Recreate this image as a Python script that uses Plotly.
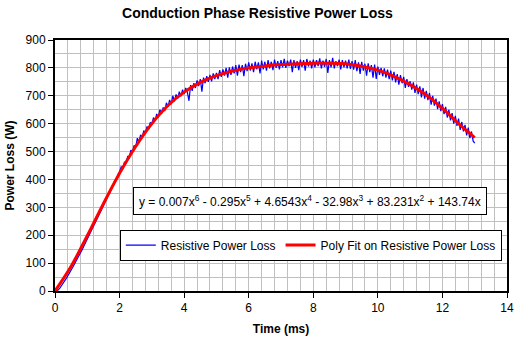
import numpy as np
import plotly.graph_objects as go

# ---- data ----
time_step = 0.05
loss_measured = [
    0, 1, 4, 10, 18, 27, 36, 45, 55, 64, 74, 85, 96, 106, 117, 128, 139, 150, 162, 173,
    186, 199, 210, 222, 234, 246, 258, 270, 282, 296, 306, 322, 330, 348, 352, 372, 378, 396, 398, 418,
    428, 445, 440, 462, 458, 482, 478, 505, 498, 522, 516, 548, 535, 560, 552, 575, 566, 590, 580, 605,
    598, 622, 610, 635, 622, 650, 635, 658, 645, 675, 660, 685, 670, 700, 680, 705, 690, 715, 698, 722,
    706, 728, 712, 682, 738, 718, 745, 728, 755, 735, 760, 715, 765, 745, 770, 750, 775, 752, 780, 760,
    782, 760, 792, 768, 795, 772, 800, 765, 802, 775, 805, 780, 810, 772, 812, 785, 810, 770, 815, 788,
    820, 790, 816, 785, 822, 795, 820, 780, 826, 795, 822, 790, 828, 798, 822, 792, 830, 800, 824, 795,
    828, 802, 832, 800, 826, 806, 830, 785, 828, 800, 824, 792, 830, 804, 828, 790, 832, 805, 826, 798,
    830, 802, 828, 806, 834, 798, 826, 804, 832, 782, 828, 802, 836, 798, 824, 806, 830, 795, 828, 802,
    826, 798, 830, 796, 824, 794, 828, 788, 820, 778, 822, 790, 815, 772, 816, 785, 810, 765, 812, 760,
    805, 775, 800, 770, 798, 765, 794, 760, 790, 755, 786, 748, 778, 740, 774, 745, 768, 728, 760, 732,
    752, 722, 748, 710, 740, 706, 734, 694, 728, 690, 718, 684, 710, 668, 700, 665, 690, 652, 680, 645,
    670, 634, 660, 622, 650, 612, 638, 600, 628, 592, 618, 578, 606, 572, 596, 558, 586, 548, 572, 538,
    530,
]
fit_time = [0, 0.5, 1, 1.5, 2, 2.5, 3, 3.5, 4, 4.5, 5, 5.5, 6, 6.5, 7, 7.5, 8, 8.5, 9, 9.5,
            10, 10.5, 11, 11.5, 12, 12.5, 13]
fit_loss = [0, 89, 198, 313, 422, 518, 600, 665, 713, 748, 772, 789, 800, 807, 812, 815, 817,
            817, 815, 806, 792, 770, 740, 703, 655, 600, 550]

measured_time = np.round(np.arange(len(loss_measured)) * time_step, 2)

title_text = "Conduction Phase Resistive Power Loss"
x_title = "Time (ms)"
y_title = "Power Loss (W)"
equation = ("y = 0.007x<sup>6</sup> - 0.295x<sup>5</sup> + 4.6543x<sup>4</sup> - 32.98x<sup>3</sup>"
            " + 83.231x<sup>2</sup> + 143.74x")

FONT = "Liberation Sans, Arial, sans-serif"

fig = go.Figure()
fig.add_trace(go.Scatter(
    x=measured_time, y=loss_measured, mode="lines",
    line=dict(color="#0000FF", width=1.2),
    name="Resistive Power Loss"))
fig.add_trace(go.Scatter(
    x=fit_time, y=fit_loss, mode="lines",
    line=dict(color="#FF0000", width=3, shape="spline"),
    name="Poly Fit on Resistive Power Loss"))

grid = "#C0C0C0"
fig.update_layout(
    width=520, height=342,
    margin=dict(l=55, r=13, t=40, b=51),
    paper_bgcolor="white", plot_bgcolor="white",
    font=dict(family=FONT, size=12, color="black"),
    title=dict(text="<b>" + title_text + "</b>", x=0.495, xanchor="center",
               y=0.962, yanchor="middle", font=dict(size=14)),
    showlegend=True,
    legend=dict(orientation="h", x=0.566, xanchor="center", y=0.183, yanchor="middle",
                bgcolor="white", bordercolor="black", borderwidth=1,
                font=dict(size=12), itemwidth=30, tracegroupgap=0),
    xaxis=dict(range=[0, 14], dtick=2, tick0=0, ticks="outside", ticklen=5, tickwidth=1,
               tickcolor="black", showline=True, linecolor="black", linewidth=2, mirror=True,
               showgrid=True, gridcolor=grid, gridwidth=1, zeroline=False, automargin=False,
               minor=dict(dtick=0.4, showgrid=True, gridcolor=grid, gridwidth=1, ticks=""),
               title=dict(text="<b>" + x_title + "</b>", font=dict(size=12), standoff=10)),
    yaxis=dict(range=[0, 900], dtick=100, tick0=0, ticks="outside", ticklen=5, tickwidth=1,
               tickcolor="black", showline=True, linecolor="black", linewidth=2, mirror=True,
               showgrid=True, gridcolor=grid, gridwidth=1, zeroline=False, automargin=False,
               minor=dict(dtick=50, showgrid=True, gridcolor=grid, gridwidth=1, ticks=""),
               title=dict(text="<b>" + y_title + "</b>", font=dict(size=12), standoff=8)),
)
fig.add_annotation(
    text=equation, xref="paper", yref="paper", x=0.564, y=0.3586,
    xanchor="center", yanchor="middle", showarrow=False,
    bgcolor="white", bordercolor="black", borderwidth=1, borderpad=5,
    font=dict(size=12, family=FONT))

fig.write_html("out.html")
